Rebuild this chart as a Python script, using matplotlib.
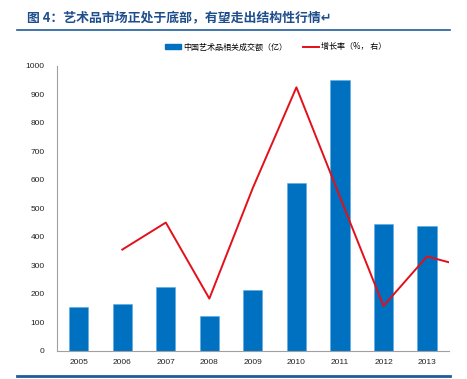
import numpy as np
import matplotlib
matplotlib.use('Agg')
from matplotlib import pyplot as plt
from matplotlib.lines import Line2D
from matplotlib.patches import Patch

plt.rcParams['font.family'] = ['Noto Sans CJK SC', 'DejaVu Sans']

years = ['2005', '2006', '2007', '2008', '2009', '2010', '2011', '2012', '2013']
volume = [155, 165, 223, 122, 213, 589, 950, 444, 438]
# growth rate, starts at 2006, last value trails off half a step past 2013
growth = [355, 450, 183, 572, 925, 540, 157, 331, 311]

title = '图 4：艺术品市场正处于底部，有望走出结构性行情↵'
bar_label = '中国艺术品相关成交额（亿）'
line_label = '增长率（%， 右）'

fig = plt.figure(figsize=(4.67, 3.79), dpi=100)
ax = fig.add_axes([0.122, 0.0747, 0.839, 0.7513])

x = np.arange(len(years))
ax.bar(x, volume, width=0.44, color='#0070C0', edgecolor='#5AA9E6', linewidth=0.4, zorder=2)
xl = list(x[1:]) + [x[-1] + 0.49]
ax.plot(xl, growth, color='#E3101A', lw=1.4, zorder=3)

ax.set_xlim(-0.5, 8.5)
ax.set_ylim(0, 1000)
ax.set_yticks(range(0, 1001, 100))
ax.set_xticks(x)
ax.set_xticklabels(years)
ax.tick_params(length=0, labelsize=6, colors='#222222', pad=6)
ax.tick_params(axis='y', pad=9)
for lab in ax.get_xticklabels() + ax.get_yticklabels():
    lab.set_family(['Liberation Sans', 'DejaVu Sans'])
for s in ['top', 'right']:
    ax.spines[s].set_visible(False)
for s in ['left', 'bottom']:
    ax.spines[s].set_color('#A0A0A0')
    ax.spines[s].set_linewidth(0.8)

handles = [Patch(color='#0070C0'), Line2D([], [], color='#E3101A', lw=1.4)]
fig.legend(handles, [bar_label, line_label], loc='center left', bbox_to_anchor=(0.345, 0.876),
           ncol=2, frameon=False, fontsize=5.8, handlelength=2.0, handleheight=0.5,
           handletextpad=0.2, columnspacing=2.0, borderpad=0)

fig.text(0.058, 0.953, title, fontsize=9.3, fontweight='bold', color='#1F4E8C',
         va='center', ha='left')
fig.add_artist(Line2D([0.037, 0.964], [0.921, 0.921], color='#1F5C99', lw=1.2))
fig.add_artist(Line2D([0.037, 0.964], [0.008, 0.008], color='#1F5C99', lw=2.0))

fig.savefig('out.png', dpi=100)
